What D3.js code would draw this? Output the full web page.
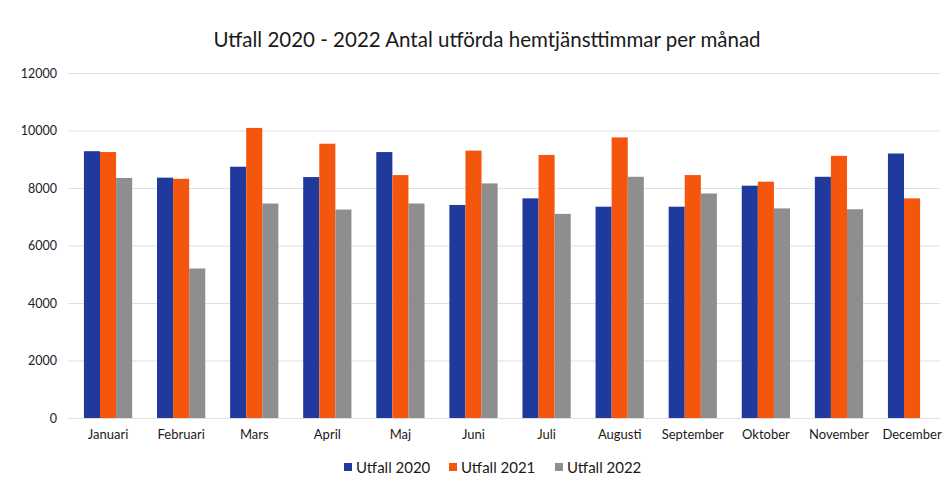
<!DOCTYPE html>
<html><head><meta charset="utf-8">
<script src="https://cdn.jsdelivr.net/npm/d3@7"></script>
<style>body{margin:0;background:#fff}svg{display:block}</style>
</head><body>
<svg id="c" width="944" height="488"></svg>
<script>
const months = ["Januari","Februari","Mars","April","Maj","Juni","Juli","Augusti","September","Oktober","November","December"];
const series = ["Utfall 2020","Utfall 2021","Utfall 2022"];
const utfall2020 = [9280, 8360, 8740, 8380, 9250, 7410, 7640, 7350, 7350, 8080, 8390, 9200];
const utfall2021 = [9250, 8320, 10090, 9540, 8450, 9300, 9150, 9760, 8450, 8220, 9120, 7640];
const utfall2022 = [8350, 5200, 7460, 7250, 7460, 8160, 7100, 8390, 7810, 7290, 7260, null];
const yTicks = [0, 2000, 4000, 6000, 8000, 10000, 12000];
const colors = ["#1f3a9c", "#f4560e", "#8e8e8e"];

const svg = d3.select("#c");
const font = "Lato, 'Open Sans', sans-serif";
const y = d3.scaleLinear().domain([0, 12000]).range([418, 73]);
const x = d3.scaleBand().domain(months).range([71.5, 948.6]).paddingInner(0.34).paddingOuter(0.17);
const xs = d3.scaleBand().domain(series).range([0, x.bandwidth()]);
const data = [utfall2020, utfall2021, utfall2022];

// gridlines
const yAxis = d3.axisLeft(y).tickValues(yTicks).tickSize(-(940 - 68)).tickFormat(d3.format("d"));
const g = svg.append("g").attr("transform", "translate(68,0)").call(yAxis);
g.select(".domain").remove();
g.selectAll(".tick line").attr("stroke", "#e0e0e0").attr("stroke-width", 1.2);
g.selectAll(".tick text").attr("x", -11).attr("fill", "#222").style("font-family", font).style("font-size", "12.5px");

// bars
series.forEach((s, si) => {
  svg.append("g").selectAll("rect")
    .data(months.map((m, i) => ({m, v: data[si][i]})).filter(d => d.v != null))
    .join("rect")
    .attr("x", d => x(d.m) + xs(s))
    .attr("width", xs.bandwidth())
    .attr("y", d => y(d.v))
    .attr("height", d => y(0) - y(d.v))
    .attr("fill", colors[si]);
});

// x labels
const xAxis = d3.axisBottom(x).tickSize(0);
const gx = svg.append("g").attr("transform", "translate(0,418)").call(xAxis);
gx.select(".domain").remove();
gx.selectAll(".tick text").attr("dy", "1.05em").attr("y", 7).attr("fill", "#1a1a1a").style("font-family", font).style("font-size", "13px");

// title
svg.append("text").attr("x", 487).attr("y", 47).attr("text-anchor", "middle")
  .attr("fill", "#1a1a1a").style("font-family", font).style("font-size", "20.5px")
  .text("Utfall 2020 - 2022 Antal utförda hemtjänsttimmar per månad");

// legend
const lx = [344, 449, 555];
series.forEach((s, i) => {
  svg.append("rect").attr("x", lx[i]).attr("y", 463).attr("width", 8).attr("height", 8).attr("fill", colors[i]);
  svg.append("text").attr("x", lx[i] + 12).attr("y", 472.5).attr("fill", "#1a1a1a")
    .style("font-family", font).style("font-size", "15px").text(s);
});
</script>
</body></html>
